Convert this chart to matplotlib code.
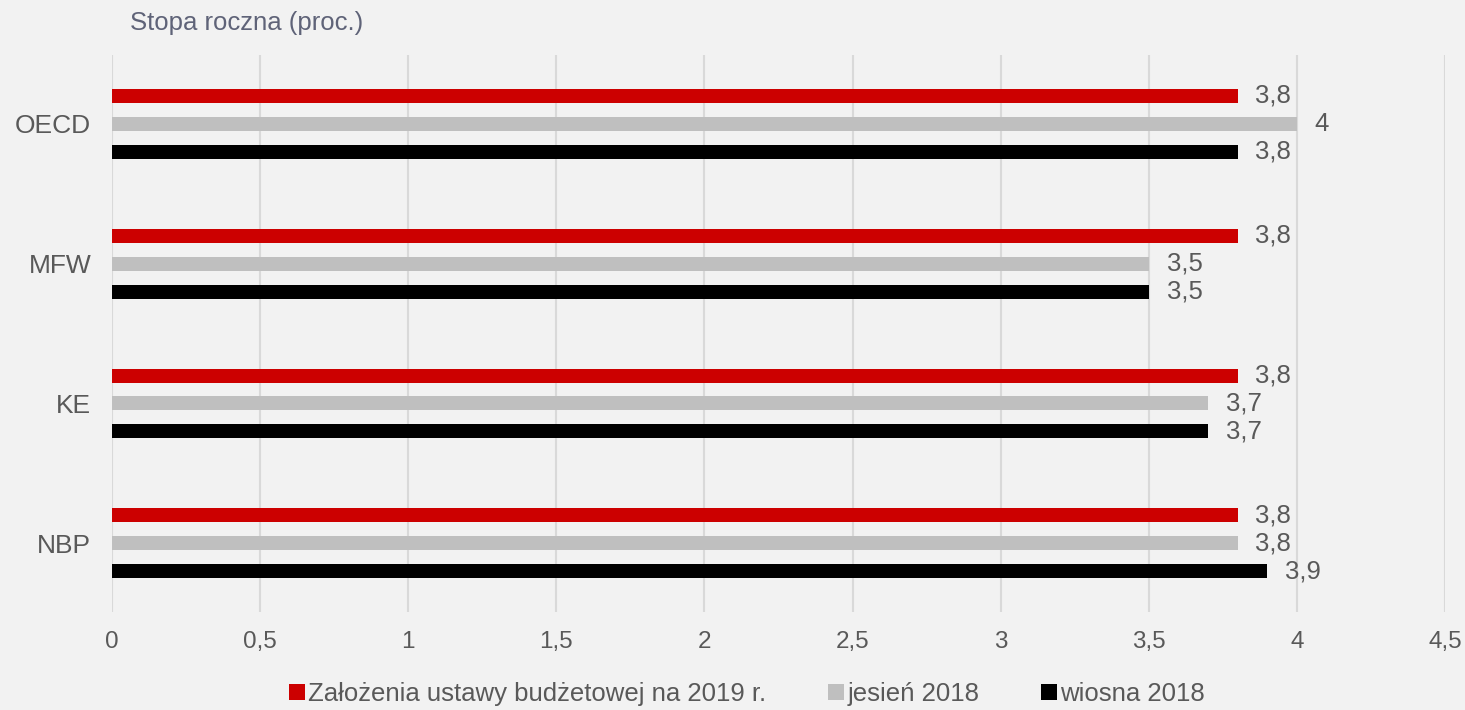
import matplotlib
matplotlib.use("Agg")
import matplotlib.pyplot as plt
import numpy as np

CATEGORIES = ["NBP", "KE", "MFW", "OECD"]           # bottom -> top
BUDGET_2019 = [3.8, 3.8, 3.8, 3.8]
AUTUMN_2018 = [3.8, 3.7, 3.5, 4.0]
SPRING_2018 = [3.9, 3.7, 3.5, 3.8]
SERIES_LABELS = ["Założenia ustawy budżetowej na 2019 r.", "jesień 2018", "wiosna 2018"]
XTICKS = [0, 0.5, 1, 1.5, 2, 2.5, 3, 3.5, 4, 4.5]

COLORS = ["#CC0000", "#BFBFBF", "#000000"]
BG = "#F2F2F2"
TXT = "#595959"


def fmt(v):
    s = f"{v:g}"
    return s.replace(".", ",")


plt.rcParams["font.family"] = ["Liberation Sans", "DejaVu Sans"]
fig = plt.figure(figsize=(14.65, 7.1), dpi=100, facecolor=BG)
ax = fig.add_axes([0.0765, 0.138, 0.9098, 0.7845], facecolor=BG)

y = np.arange(len(CATEGORIES))
offsets = [0.2, 0.0, -0.2]
for vals, off, col, lab in zip([BUDGET_2019, AUTUMN_2018, SPRING_2018], offsets, COLORS, SERIES_LABELS):
    ax.barh(y + off, vals, height=0.1, color=col, label=lab, zorder=3)
    for yi, v in zip(y, vals):
        ax.text(v + 0.06, yi + off, fmt(v), va="center", ha="left", fontsize=18.5, color=TXT)

ax.set_xlim(0, 4.5)
ax.set_ylim(-0.49, 3.49)
ax.set_xticks(XTICKS)
ax.set_xticklabels([fmt(t) for t in XTICKS], fontsize=17.5, color=TXT)
ax.set_yticks(y)
ax.set_yticklabels(CATEGORIES, fontsize=19, color=TXT)
ax.tick_params(length=0)
ax.tick_params(axis="x", pad=14)
ax.tick_params(axis="y", pad=15)
for s in ax.spines.values():
    s.set_visible(False)
ax.grid(axis="x", color="#D9D9D9", lw=1.5, zorder=0)

fig.text(0.089, 0.968, "Stopa roczna (proc.)", fontsize=18.5, color="#5F6378", va="center")

fig.legend(loc="center", bbox_to_anchor=(0.51, 0.022), ncol=3, frameon=False,
           fontsize=18.5, handlelength=0.6, handleheight=0.6, handletextpad=0.15,
           columnspacing=2.4, labelcolor=TXT)

fig.savefig("out.png", dpi=100, facecolor=BG)
